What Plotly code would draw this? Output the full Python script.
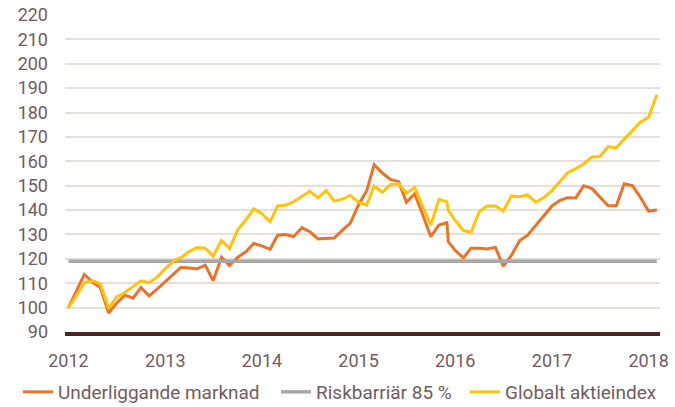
import pandas as pd
import plotly.graph_objects as go

# ---- data ----
month_dates = [d.strftime("%Y-%m-%d") for d in pd.date_range("2012-01-01", "2018-02-01", freq="MS")]
dates = month_dates[:48] + ["2015-12-06"] + month_dates[48:]

underliggande = [
    100.0, 106.8, 113.6, 110.5, 108.1, 97.8, 101.8, 105.1, 103.9, 108.2, 104.8, 107.6,
    110.6, 113.8, 116.5, 116.2, 115.9, 117.4, 111.0, 120.6, 117.2, 120.6, 122.9, 126.3,
    125.3, 123.9, 129.7, 130.0, 129.1, 132.8, 131.1, 128.2, 128.3, 128.5, 131.7, 134.7,
    142.1, 148.0, 158.6, 155.2, 152.6, 151.7, 143.2, 146.6, 138.0, 129.1, 133.9, 134.8,
    127.0,
    123.5, 120.4, 124.3, 124.3, 124.0, 124.7, 117.0, 121.5, 127.5, 129.7, 133.9, 137.6,
    141.7, 144.0, 145.1, 145.0, 150.0, 148.8, 145.2, 141.8, 141.8, 150.8, 150.0, 145.2,
    139.6, 140.0,
]

globalt = [
    100.0, 105.0, 110.3, 111.1, 109.7, 99.6, 104.4, 106.1, 108.6, 111.0, 110.2, 112.5,
    116.0, 119.1, 120.5, 123.0, 124.6, 124.4, 121.1, 127.5, 124.2, 131.8, 135.9, 140.5,
    138.5, 135.2, 141.7, 142.0, 143.4, 145.5, 147.7, 145.0, 148.0, 143.7, 144.5, 146.0,
    143.2, 142.0, 149.9, 147.3, 150.4, 150.8, 146.9, 149.3, 141.5, 133.8, 144.4, 143.4,
    140.0,
    135.8, 131.7, 130.8, 139.3, 141.7, 141.7, 139.6, 145.8, 145.5, 146.2, 143.2, 145.1,
    148.0, 151.8, 155.3, 157.0, 159.0, 161.8, 162.0, 166.0, 165.6, 169.1, 172.4, 176.0,
    178.1, 187.3,
]

riskbarriar = 119.0

year_ticks = ["2012-01-01", "2013-01-01", "2014-01-01", "2015-01-01",
              "2016-01-01", "2017-01-01", "2018-01-01"]
year_labels = ["2012", "2013", "2014", "2015", "2016", "2017", "2018"]
y_ticks = list(range(90, 221, 10))

# ---- styles ----
ORANGE = "#E9732B"
GRAY = "#A7A7A7"
YELLOW = "#FFC20E"
TEXT = "#735B5E"
GRID = "#EADFD6"
BASE = "#4B2327"
FONT = "Roboto, sans-serif"

fig = go.Figure()
fig.add_trace(go.Scatter(x=dates, y=underliggande, mode="lines", name="Underliggande marknad",
                         line=dict(color=ORANGE, width=3), legend="legend"))
fig.add_trace(go.Scatter(x=[dates[0], dates[-1]], y=[riskbarriar, riskbarriar], mode="lines",
                         name="Riskbarriär 85 %", line=dict(color=GRAY, width=3.5), legend="legend2"))
fig.add_trace(go.Scatter(x=dates, y=globalt, mode="lines", name="Globalt aktieindex",
                         line=dict(color=YELLOW, width=3), legend="legend3"))

def leg(xpx):
    return dict(orientation="h", xref="container", yref="container",
                x=xpx / 675, xanchor="left", y=(407 - 392) / 407, yanchor="middle",
                font=dict(size=19, color=TEXT), itemwidth=30,
                bgcolor="rgba(0,0,0,0)")

fig.update_layout(
    width=675, height=407,
    margin=dict(l=65, r=15, t=15, b=75, autoexpand=False),
    paper_bgcolor="white", plot_bgcolor="white",
    font=dict(family=FONT, size=18, color=TEXT),
    showlegend=True,
    legend=leg(18), legend2=leg(276), legend3=leg(465),
    xaxis=dict(type="date", range=["2011-12-19", "2018-02-13"],
               tickvals=year_ticks, ticktext=year_labels,
               showgrid=False, zeroline=False,
               showline=True, linecolor=BASE, linewidth=3.5,
               ticks="", ticklabelstandoff=10, ticklabeloverflow="allow"),
    yaxis=dict(range=[90, 220], tickvals=y_ticks,
               showgrid=True, gridcolor=GRID, gridwidth=2,
               zeroline=False, showline=False, ticks="",
               ticklabelstandoff=16),
)

fig.write_html(
    "out.html",
    config={"displayModeBar": False},
    post_script="document.body.style.margin='0';document.body.style.padding='0';document.body.style.overflow='hidden';",
)
